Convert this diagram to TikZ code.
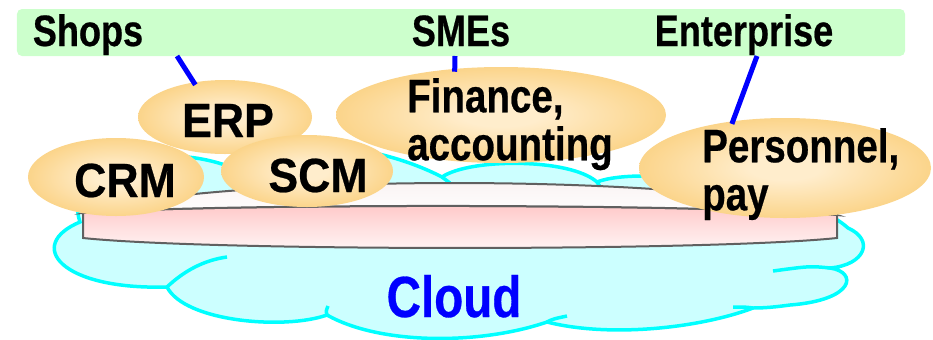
\documentclass[tikz,border=0pt]{standalone}
\usepackage{fontspec}
\newfontfamily\lblfont{Liberation Sans}[FakeStretch=0.82, BoldFeatures={FakeBold=0.5}]
\newfontfamily\capsfont{Liberation Sans}[FakeStretch=0.93, BoldFeatures={FakeBold=0.5}]
\usetikzlibrary{shapes.geometric}

\definecolor{bandgreen}{HTML}{CCFFCC}
\definecolor{cloudfill}{HTML}{CCFFFF}
\definecolor{cloudline}{HTML}{00FFFF}
\definecolor{blobin}{HTML}{FFEDCC}
\definecolor{blobout}{HTML}{F9C664}
\definecolor{diskline}{HTML}{606060}
\definecolor{diskpink}{HTML}{FFC8C8}
\definecolor{disklight}{HTML}{FFF6F6}
\pgfdeclareradialshading{blobshade}{\pgfpoint{0bp}{0bp}}{color(0bp)=(blobin); color(6bp)=(blobin); color(36bp)=(blobout); color(50bp)=(blobout)}

\begin{document}
\begin{tikzpicture}[x=1bp, y=-1bp,
    bandtxt/.style={font=\lblfont\bfseries\fontsize{44bp}{46bp}\selectfont, inner sep=0pt},
    blobtxt/.style={font=\lblfont\bfseries\fontsize{47bp}{48bp}\selectfont, inner sep=0pt, align=left},
    capstxt/.style={font=\capsfont\bfseries\fontsize{48bp}{48bp}\selectfont, inner sep=0pt},
    blob/.style={ellipse, shading=blobshade, inner sep=0pt},
    link/.style={draw=blue, line width=5bp, shorten >=-3bp},
    cloudedge/.style={draw=cloudline, line width=3.5bp}]
        \useasboundingbox (0,0) rectangle (933,339);

        \node[fill=bandgreen, rounded corners=5bp, minimum width=888bp, minimum height=47bp] (band) at (461,32.5) {};
        \node[bandtxt, anchor=base] (shops) at (88,46) {Shops};
        \node[bandtxt, anchor=base] (smes) at (461,46) {SMEs};
        \node[bandtxt, anchor=base] (ent) at (744,46) {Enterprise};

        \filldraw[cloudedge, fill=cloudfill] (80,222) .. controls (62,170) and (150,140) .. (225,165)
            .. controls (270,135) and (370,140) .. (442,177)
            .. controls (470,158) and (570,158) .. (597,182)
            .. controls (640,165) and (800,185) .. (848,228)
            .. controls (875,240) and (865,265) .. (830,268)
            .. controls (858,272) and (855,300) .. (790,305)
            .. controls (775,307) and (765,308) .. (753,308)
            .. controls (700,328) and (610,338) .. (547,322)
            .. controls (480,345) and (380,345) .. (327,315)
            .. controls (285,330) and (185,322) .. (167,287)
            .. controls (60,290) and (25,245) .. (80,222) -- cycle;
        \draw[cloudedge] (167,287) .. controls (185,270) and (205,260) .. (227,257);
        \draw[cloudedge] (327,315) .. controls (326,311) .. (328,306);
        \draw[cloudedge] (547,322) .. controls (553,319) .. (567,316);
        \draw[cloudedge] (753,308) .. controls (745,307) .. (733,307);
        \draw[cloudedge] (830,268) .. controls (810,266) .. (773,271);
        \draw[cloudedge] (442,177) -- (450,183);
        \draw[cloudedge] (597,182) -- (601,188);
        \node[text=blue, font=\lblfont\bfseries\fontsize{58bp}{60bp}\selectfont, inner sep=0pt, anchor=base] (cloud) at (454,317) {Cloud};

        \draw[diskline, line width=2bp, top color=diskpink, bottom color=disklight] (83,213) -- (83,238)
            .. controls (210,251.3) and (710,251.3) .. (837,238) -- (837,215)
            .. controls (710,203.3) and (210,203.3) .. (83,213) -- cycle;
        \draw[diskline, line width=2bp, top color=disklight!95!gray, bottom color=white] (83,213)
            .. controls (210,172.7) and (710,172.7) .. (837,215)
            .. controls (710,203.3) and (210,203.3) .. (83,213) -- cycle;

        \coordinate (shopsfoot) at (177,56);
        \coordinate (smesfoot) at (455,56);
        \coordinate (entfoot) at (757,56);

        \node[blob, minimum width=174bp, minimum height=74bp] (erp) at (225,117) {};
        \node[blob, minimum width=330bp, minimum height=96bp] (fin) at (501,115) {};
        \node[blob, minimum width=176bp, minimum height=78bp] (crm) at (116,177) {};
        \node[blob, minimum width=172bp, minimum height=72bp] (scm) at (307,171) {};
        \node[blob, minimum width=292bp, minimum height=100bp] (pay) at (785,168) {};

        \draw[link] (shopsfoot) -- (erp.132);
        \draw[link] (smesfoot) -- (fin.135);
        \draw[link] (entfoot) -- (pay.138);

        \node[capstxt, anchor=base] (erptxt) at (228,137) {ERP};
        \node[blobtxt, anchor=north west] (fintxt) at (407,78) {Finance,\\accounting};
        \node[capstxt, anchor=base] (crmtxt) at (125,197) {CRM};
        \node[capstxt, anchor=base] (scmtxt) at (318,192) {SCM};
        \node[blobtxt, anchor=north west] (paytxt) at (702,128) {Personnel,\\pay};
    \end{tikzpicture}
\end{document}
